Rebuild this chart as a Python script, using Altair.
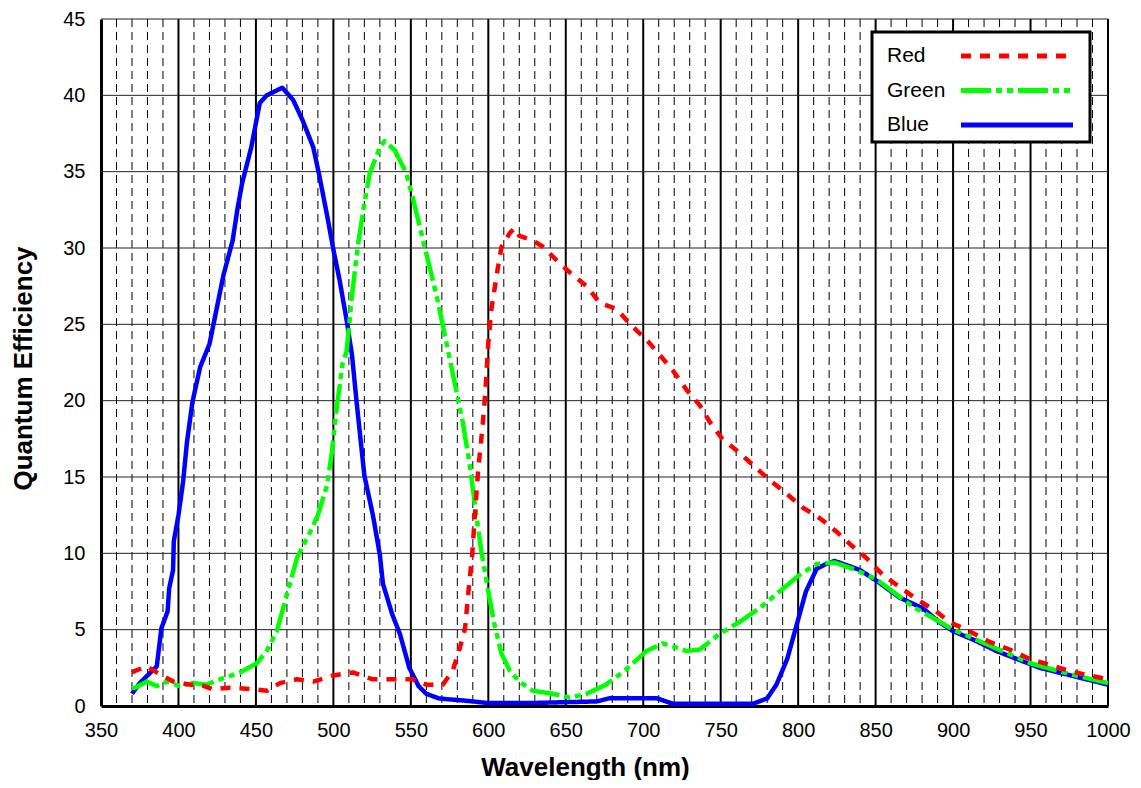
import altair as alt
import pandas as pd

# ---- data ----
blue_wl = [370, 375, 380, 386, 389, 393, 394, 396.5, 397, 400, 403, 405.5, 409, 414, 420, 429, 435, 438,
           441, 447, 452.5, 457, 467, 474, 480, 487, 491, 496, 500, 504, 508.5, 512, 515, 520, 525.5, 530,
           532, 538, 543, 549, 555, 560, 568, 573, 585, 599, 630, 650, 670, 678, 709, 719, 771, 780, 786,
           793, 799, 805, 812, 818, 823.5, 832, 840, 850.6, 865.5, 880.5, 891, 900, 914, 928, 956, 984, 1000]
blue_val = [0.8, 1.5, 2.0, 2.6, 5.1, 6.2, 7.7, 8.9, 10.8, 12.5, 14.7, 17.3, 19.9, 22.2, 23.7, 28.2, 30.5, 32.5,
            34.2, 36.6, 39.5, 40.0, 40.5, 39.7, 38.4, 36.6, 34.7, 32.1, 29.9, 27.9, 25.3, 23.0, 19.9, 15.1, 12.5, 9.9,
            8.0, 6.0, 4.7, 2.5, 1.3, 0.8, 0.5, 0.45, 0.35, 0.2, 0.2, 0.25, 0.3, 0.5, 0.5, 0.15, 0.15, 0.5, 1.4,
            3.1, 5.3, 7.5, 9.0, 9.3, 9.5, 9.2, 8.9, 8.2, 7.1, 6.4, 5.5, 4.9, 4.3, 3.6, 2.5, 1.8, 1.4]

green_wl = [370, 372, 379.6, 386, 392.6, 401, 409.4, 418, 426.8, 439.7, 450.6, 457, 463.5, 470, 476.5, 485, 490,
            496, 499, 502, 506, 508.5, 512, 516, 520, 523.5, 530, 533, 539.7, 547, 551, 556, 567, 575, 583.5,
            588, 592.5, 595.6, 600, 604, 608.6, 614, 620, 628.7, 641.6, 652.6, 663.5, 676, 689, 702, 712.6, 719,
            728, 736.5, 749, 762, 775, 788, 801, 812, 823.5, 835, 850.6, 865, 874, 890, 900, 925, 950, 975, 1000]
green_val = [1.2, 1.2, 1.6, 1.3, 1.6, 1.3, 1.5, 1.4, 1.75, 2.2, 2.8, 3.6, 4.9, 7.3, 9.7, 11.4, 12.5,
             14.5, 16.6, 19.4, 22.5, 23.2, 26.9, 30.3, 32.9, 34.9, 36.6, 37.0, 36.4, 34.9, 33.4, 31.3, 26.7, 22.8, 18.6,
             15.8, 12.3, 10.1, 7.5, 5.3, 3.4, 2.3, 1.6, 1.0, 0.8, 0.55, 0.8, 1.4, 2.4, 3.6, 4.1, 3.9,
             3.6, 3.7, 4.7, 5.5, 6.4, 7.5, 8.6, 9.3, 9.4, 9.0, 8.3, 7.2, 6.5, 5.6, 5.0, 3.9, 2.8, 2.1, 1.5]

red_wl = [370, 372, 379.6, 386, 396.6, 407.4, 414, 422, 433, 448, 457, 465.5, 476.5, 487, 500, 512.6, 525.5,
          538.4, 551, 560, 570.6, 577, 581.6, 585, 587, 589.6, 591.6, 593.5, 596, 598, 600, 602, 604, 606,
          608.6, 614, 617, 620, 628.7, 635, 644, 652.6, 663.5, 672, 683, 691.6, 702, 710.6, 719, 728, 736.5,
          743, 751, 762, 770.6, 781.6, 792.6, 803, 814, 825, 833.5, 844, 854.5, 865.5, 876.5, 889, 897.7,
          910.6, 923.5, 936.5, 949, 962, 975, 988, 1000]
red_val = [2.2, 2.3, 2.6, 2.2, 1.6, 1.4, 1.4, 1.1, 1.2, 1.1, 1.0, 1.5, 1.75, 1.6, 2.0, 2.2, 1.75,
           1.75, 1.75, 1.4, 1.4, 2.3, 3.8, 5.1, 7.3, 9.9, 12.9, 15.5, 18.0, 20.4, 23.8, 26.0, 27.3, 28.6,
           30.1, 31.0, 31.3, 30.8, 30.5, 30.1, 29.2, 28.4, 27.5, 26.4, 26.0, 25.0, 24.0, 23.0, 22.0, 20.7, 19.7,
           18.6, 17.5, 16.6, 15.8, 14.8, 13.9, 13.0, 12.3, 11.4, 10.6, 9.7, 8.6, 7.8, 7.0, 6.2, 5.5,
           4.9, 4.2, 3.7, 3.1, 2.7, 2.3, 2.0, 1.75]

series_names = ["Red", "Green", "Blue"]
series_colors = ["#ff0000", "#00ff00", "#0000ff"]
series_dashes = [[10, 9], [30, 5, 6, 5, 6, 5], [1, 0]]

x_ticks = list(range(350, 1001, 50))
y_ticks = list(range(0, 46, 5))
major_x = list(range(400, 1001, 50))
minor_x = [v for v in range(360, 1000, 10) if v % 50 != 0]
major_y = list(range(5, 46, 5))

# ---- tables ----
df = pd.concat([
    pd.DataFrame({"wl": red_wl, "val": red_val, "series": "Red"}),
    pd.DataFrame({"wl": green_wl, "val": green_val, "series": "Green"}),
    pd.DataFrame({"wl": blue_wl, "val": blue_val, "series": "Blue"}),
], ignore_index=True)

FONT = "Liberation Sans"

x_axis = alt.Axis(values=x_ticks, format="d", title="Wavelength (nm)", grid=False, ticks=False, labelFlush=False,
                  labelFontSize=20, labelFont=FONT, labelColor="black", labelPadding=14,
                  domainColor="black", domainWidth=3,
                  titleFont=FONT, titleFontSize=26, titleFontWeight="bold", titleColor="black",
                  titleX=484, titleY=69, titleAlign="center", titleBaseline="alphabetic")
y_axis = alt.Axis(values=y_ticks, title="Quantum Efficiency", grid=False, ticks=False, labelFlush=False,
                  labelFontSize=20, labelFont=FONT, labelColor="black", labelPadding=16,
                  domainColor="black", domainWidth=3,
                  titleFont=FONT, titleFontSize=26, titleFontWeight="bold", titleColor="black",
                  titleX=-77.5, titleY=349, titleAngle=270, titleAlign="center", titleBaseline="middle")

xs = alt.Scale(domain=[350, 1000], nice=False, zero=False)
ys = alt.Scale(domain=[0, 45], nice=False)

X = alt.X("wl:Q", scale=xs, axis=x_axis)
Y = alt.Y("val:Q", scale=ys, axis=y_axis)

legend = alt.Legend(orient="none", legendX=771, legendY=13, title=None,
                    symbolType="M -3.862 0 L 3.862 0", symbolSize=841, symbolStrokeWidth=5,
                    rowPadding=7.5, padding=7,
                    labelOffset={"expr": "-147"}, symbolOffset=121,
                    labelFont=FONT, labelFontSize=21, labelColor="black",
                    fillColor="white", strokeColor="black")

color = alt.Color("series:N", scale=alt.Scale(domain=series_names, range=series_colors), legend=legend)
dash = alt.StrokeDash("series:N", scale=alt.Scale(domain=series_names, range=series_dashes), legend=legend)

minor = alt.Chart(pd.DataFrame({"wl": minor_x})).mark_rule(
    color="black", strokeWidth=1, strokeDash=[8, 5]).encode(x=X)
major = alt.Chart(pd.DataFrame({"wl": major_x})).mark_rule(
    color="black", strokeWidth=2).encode(x=X)
hgrid = alt.Chart(pd.DataFrame({"val": major_y})).mark_rule(
    color="#222222", strokeWidth=1).encode(y=Y)

def line(name):
    return alt.Chart(df).transform_filter(alt.datum.series == name).mark_line(
        strokeWidth=4.5, strokeCap="butt", strokeJoin="round").encode(x=X, y=Y, color=color, strokeDash=dash)

chart = alt.layer(minor, major, hgrid, line("Blue"), line("Green"), line("Red")).properties(
    width=1007, height=687,
    autosize=alt.AutoSizeParams(type="none"),
    padding={"left": 93, "top": 11, "right": 25, "bottom": 74},
).configure_view(strokeWidth=0).configure_legend(strokeWidth=3)

chart.save("out.html", embed_options={"renderer": "svg", "actions": False})
